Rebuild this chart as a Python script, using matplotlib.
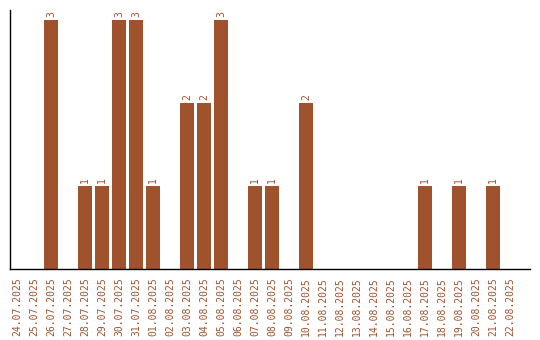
import matplotlib
matplotlib.use("Agg")
import matplotlib.pyplot as plt

dates = ["24.07.2025", "25.07.2025", "26.07.2025", "27.07.2025", "28.07.2025",
         "29.07.2025", "30.07.2025", "31.07.2025", "01.08.2025", "02.08.2025",
         "03.08.2025", "04.08.2025", "05.08.2025", "06.08.2025", "07.08.2025",
         "08.08.2025", "09.08.2025", "10.08.2025", "11.08.2025", "12.08.2025",
         "13.08.2025", "14.08.2025", "15.08.2025", "16.08.2025", "17.08.2025",
         "18.08.2025", "19.08.2025", "20.08.2025", "21.08.2025", "22.08.2025"]
counts = [0, 0, 3, 0, 1, 1, 3, 3, 1, 0, 2, 2, 3, 0, 1, 1, 0, 2, 0, 0,
          0, 0, 0, 0, 1, 0, 1, 0, 1, 0]

bar_color = "#a0522d"
fig = plt.figure(figsize=(5.4, 3.4), dpi=100)
ax = fig.add_axes([10/540, 71/340, 520/540, 259/340])
x = list(range(len(dates)))
ax.bar(x, counts, width=0.82, color=bar_color)
for xi, v in zip(x, counts):
    if v > 0:
        ax.text(xi, v + 0.03, str(v), rotation=90, ha="center", va="bottom",
                fontsize=7, family="DejaVu Sans Mono", color=bar_color)
ax.set_xlim(-0.41, 30.18)
ax.set_ylim(0, 3.12)
ax.set_xticks(x)
ax.set_xticklabels(dates, rotation=90, fontsize=7, family="DejaVu Sans Mono",
                   color=bar_color)
ax.tick_params(axis="x", length=0, pad=6)
ax.set_yticks([])
ax.spines["top"].set_visible(False)
ax.spines["right"].set_visible(False)
ax.spines["left"].set_linewidth(1)
ax.spines["bottom"].set_linewidth(1)
fig.savefig("out.png", dpi=100)
